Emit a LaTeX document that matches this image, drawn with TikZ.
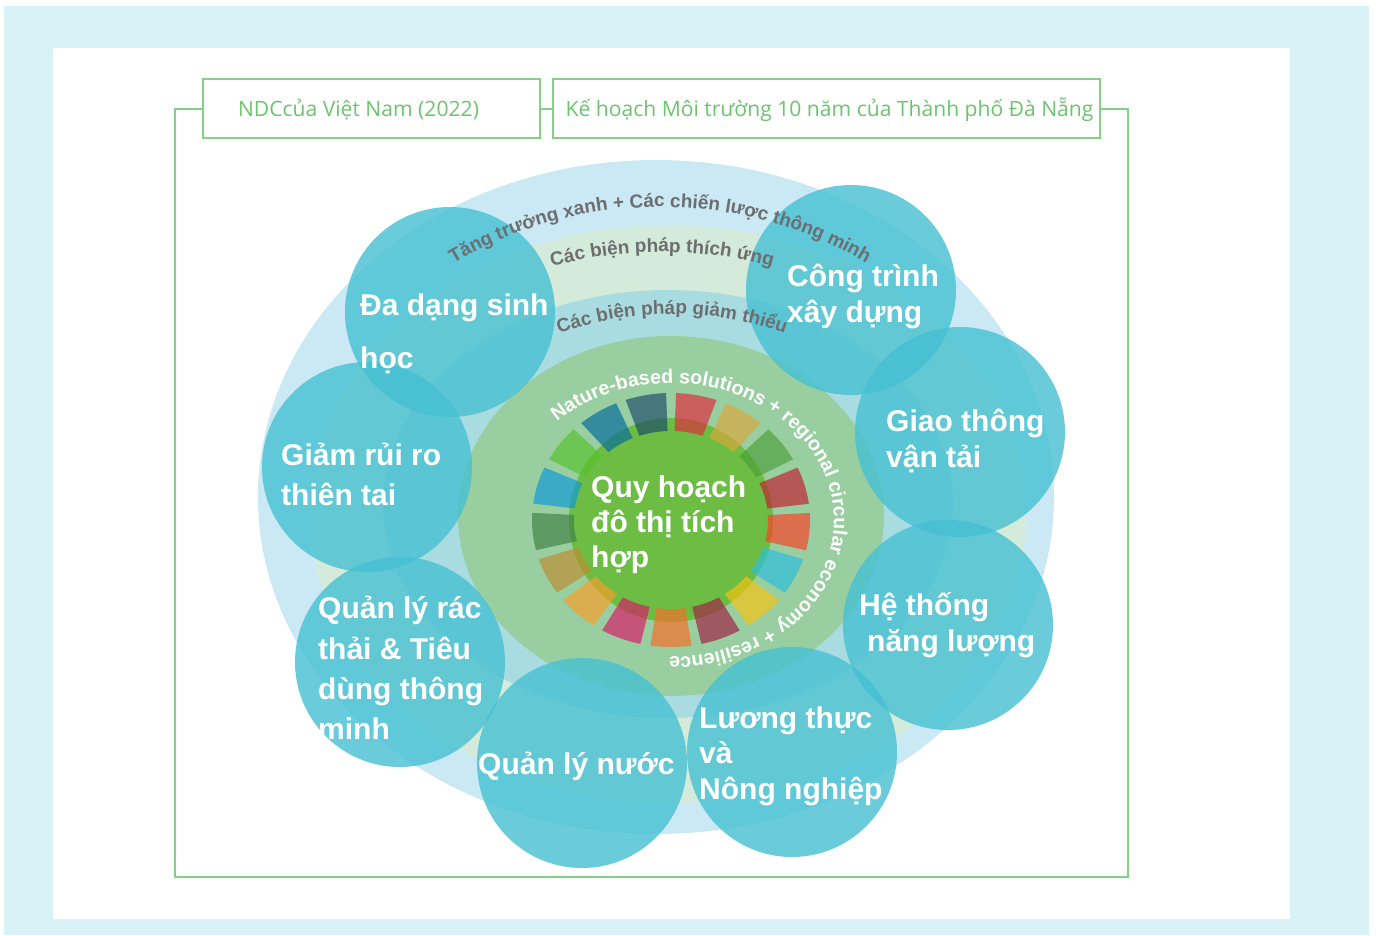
\documentclass[tikz,border=0pt]{standalone}
\usepackage{fontspec}
\setmainfont{Liberation Sans}
\newfontfamily\boxfont{Open Sans}
\usetikzlibrary{decorations.text}

\definecolor{bgcyan}{HTML}{D9F2F6}
\definecolor{framegreen}{HTML}{84CF8A}
\definecolor{labelgreen}{HTML}{6CC46F}
\definecolor{ringblue}{HTML}{CBE9F5}
\definecolor{ringpale}{HTML}{D4EADA}
\definecolor{ringteal}{HTML}{A9DCE1}
\definecolor{ringgreen}{HTML}{99CFA0}
\definecolor{coregreen}{HTML}{6DBD45}
\definecolor{bubble}{HTML}{45C0D3}
\definecolor{textgrey}{HTML}{6D6E70}
\definecolor{sdg1}{HTML}{E5243B}
\definecolor{sdg2}{HTML}{DDA63A}
\definecolor{sdg3}{HTML}{4C9F38}
\definecolor{sdg4}{HTML}{C5192D}
\definecolor{sdg5}{HTML}{FF3A21}
\definecolor{sdg6}{HTML}{26BDE2}
\definecolor{sdg7}{HTML}{FCC30B}
\definecolor{sdg8}{HTML}{A21942}
\definecolor{sdg9}{HTML}{FD6925}
\definecolor{sdg10}{HTML}{DD1367}
\definecolor{sdg11}{HTML}{FD9D24}
\definecolor{sdg12}{HTML}{BF8B2E}
\definecolor{sdg13}{HTML}{3F7E44}
\definecolor{sdg14}{HTML}{0A97D9}
\definecolor{sdg15}{HTML}{56C02B}
\definecolor{sdg16}{HTML}{00689D}
\definecolor{sdg17}{HTML}{19486A}

\tikzset{
  labelbox/.style={draw=framegreen, line width=2pt, minimum height=59pt, inner sep=0pt},
  boxtext/.style={text=labelgreen, font=\boxfont\fontsize{21.1}{25}\selectfont, inner sep=0pt},
  frameline/.style={draw=framegreen, line width=2pt},
  topic/.style={circle, fill=bubble, fill opacity=.8, minimum size=210pt, inner sep=0pt},
  topiclbl/.style={anchor=west, align=left, text=white, inner sep=0pt,
    font=\fontsize{30}{36}\selectfont\bfseries},
  arctext/.style={decorate, decoration={text along path, text align=center,
    text color=textgrey, text={|\fontsize{19}{19}\selectfont\bfseries|#1}}},
}

\begin{document}
\begin{tikzpicture}[x=1pt, y=-1pt]
		\useasboundingbox (0,0) rectangle (1378,935);
		\fill[white] (0,0) rectangle (1378,935);
		\fill[bgcyan] (4,6) rectangle (1369,935);
		\fill[white] (53,48) rectangle (1290,919);
		% boxes on top and frame
		\node[labelbox, minimum width=337pt] (ndc) at (371.5,108.5) {};
		\node[labelbox, minimum width=547pt] (plan) at (826.5,108.5) {};
		\node[boxtext] (ndc-t) at (358.5,109.5) {NDCcủa Việt Nam (2022)};
		\node[boxtext] (plan-t) at (829.5,109.5) {Kế hoạch Môi trường 10 năm của Thành phố Đà Nẵng};
		\coordinate (fbl) at (175,877);
		\coordinate (ftr) at (1128,108.5);
		\draw[frameline] (ndc.west) -| (fbl) -| (ftr) -- (plan.east);
		\draw[frameline] (ndc.east) -- (plan.west);
		% rings
		\fill[ringblue] (656,497) ellipse[x radius=398, y radius=337];
		\fill[ringpale] (668,514) ellipse[x radius=358, y radius=289];
		\fill[ringteal] (668,504) ellipse[x radius=285, y radius=214];
		\fill[ringgreen] (671,516) ellipse[x radius=213, y radius=180];
		% core and goal wheel
		\begin{scope}[shift={(671,520)}]
		\fill[coregreen] (0,0) circle[radius=102];
		\foreach \c [count=\k] in {sdg1,sdg2,sdg3,sdg4,sdg5,sdg6,sdg7,sdg8,sdg9,sdg10,sdg11,sdg12,sdg13,sdg14,sdg15,sdg16,sdg17}{
			\pgfmathsetmacro\aa{-90+10.59+(\k-1)*21.18-8.5}
			\pgfmathsetmacro\ab{\aa+17}
			\fill[\c, opacity=.65] (\aa:139 and 127) arc[start angle=\aa, end angle=\ab, x radius=139, y radius=127]
				-- (\ab:97 and 89) arc[start angle=\ab, end angle=\aa, x radius=97, y radius=89] -- cycle;
		}
		\end{scope}
		\node[topiclbl, font=\fontsize{30}{35}\selectfont\bfseries] (core) at (591,525) {Quy hoạch\\đô thị tích\\hợp};
		% topic bubbles
		\node[topic] (bio) at (450,312) {};
		\node[topic] (build) at (851,290) {};
		\node[topic] (transport) at (960,432) {};
		\node[topic] (energy) at (948,625) {};
		\node[topic] (food) at (792,752) {};
		\node[topic] (water) at (582,763) {};
		\node[topic] (waste) at (400,662) {};
		\node[topic] (risk) at (367,467) {};
		% curved texts
		\path[arctext={Tăng trưởng xanh + Các chiến lược thông minh}]
			([shift={(210:360 and 313)}]660,520) arc[start angle=210, end angle=330, x radius=360, y radius=313];
		\path[arctext={Các biện pháp thích ứng}]
			([shift={(235:340 and 268)}]662,520) arc[start angle=235, end angle=305, x radius=340, y radius=268];
		\path[arctext={Các biện pháp giảm thiểu}]
			([shift={(225:265 and 207)}]672,521) arc[start angle=225, end angle=315, x radius=265, y radius=207];
		\path[decorate, decoration={text along path, text align=center, text color=white,
			text={|\fontsize{19.6}{21}\selectfont\bfseries|Nature-based solutions + regional circular economy + resilience}}]
			([shift={(212:163 and 137)}]671,520) arc[start angle=212, end angle=463, x radius=163, y radius=137];
		% bubble texts
		\node[topiclbl] (bio-t) at (360,334) {Đa dạng sinh\\[17pt]học};
		\node[topiclbl] (build-t) at (787,296) {Công trình\\xây dựng};
		\node[topiclbl] (transport-t) at (886,441) {Giao thông\\vận tải};
		\node[topiclbl] (energy-t) at (859,625) {Hệ thống\\\hspace{8pt}năng lượng};
		\node[topiclbl, font=\fontsize{30}{35.5}\selectfont\bfseries] (food-t) at (699,756) {Lương thực\\và\\Nông nghiệp};
		\node[topiclbl] (water-t) at (478,766) {Quản lý nước};
		\node[topiclbl, font=\fontsize{30}{40.3}\selectfont\bfseries] (waste-t) at (318,668) {Quản lý rác\\thải \& Tiêu\\dùng thông\\minh};
		\node[topiclbl, font=\fontsize{30}{40}\selectfont\bfseries] (risk-t) at (281,474) {Giảm rủi ro\\thiên tai};
\end{tikzpicture}
\end{document}
